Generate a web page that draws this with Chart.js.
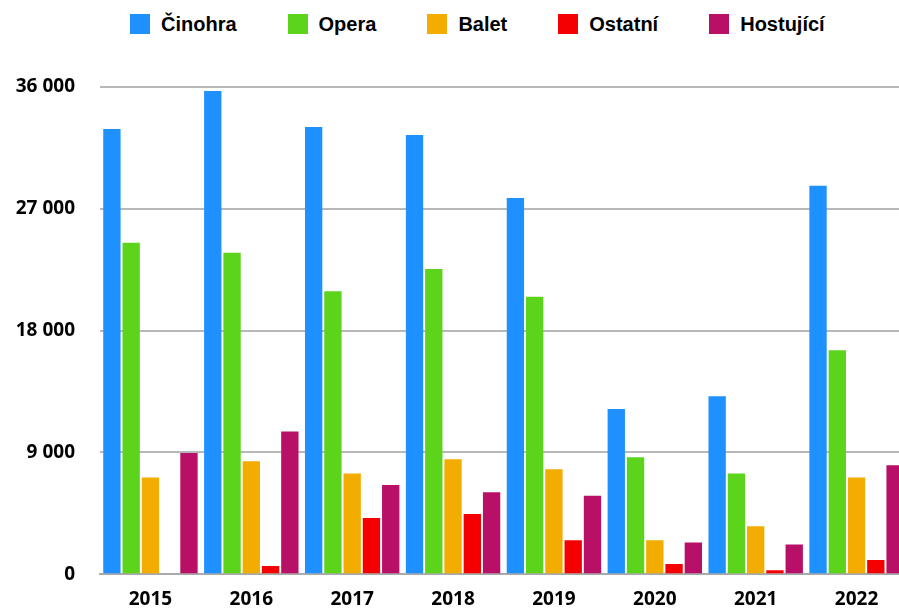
<!DOCTYPE html>
<html lang="cs">
<head>
<meta charset="utf-8">
<script src="https://cdn.jsdelivr.net/npm/chart.js@4/dist/chart.umd.min.js"></script>
<style>
  html, body { margin: 0; padding: 0; background: #fff; }
  body { width: 899px; height: 608px; overflow: hidden; position: relative; }
  #legend {
    position: absolute; top: 14px; left: 130px;
    display: flex; gap: 51px;
    font: bold 20px "Liberation Sans", Arial, sans-serif; color: #000;
  }
  #legend .item { display: flex; align-items: center; height: 20px; line-height: 20px; }
  #legend .box { width: 20px; height: 20px; margin-right: 11px; }
  #chart { position: absolute; top: 0; left: 0; }
</style>
</head>
<body>
<div id="legend"></div>
<canvas id="chart" width="920" height="635"></canvas>
<script>
// Data
const years = ['2015', '2016', '2017', '2018', '2019', '2020', '2021', '2022'];
const seriesNames = ['Činohra', 'Opera', 'Balet', 'Ostatní', 'Hostující'];
const cinohra = [32900, 35700, 33050, 32450, 27800, 12200, 13150, 28700];
const opera = [24500, 23750, 20900, 22550, 20500, 8650, 7450, 16550];
const balet = [7150, 8350, 7450, 8500, 7750, 2500, 3550, 7150];
const ostatni = [0, 600, 4150, 4450, 2500, 750, 300, 1050];
const hostujici = [8950, 10550, 6600, 6050, 5800, 2350, 2200, 8050];
const yTicks = [0, 9000, 18000, 27000, 36000];

const colors = ['#1e90ff', '#5cd41c', '#f3ad00', '#f50000', '#b81066'];
const values = [cinohra, opera, balet, ostatni, hostujici];

// Legend as plain HTML, built from the same names and colours
const legendEl = document.getElementById('legend');
seriesNames.forEach((name, i) => {
  const item = document.createElement('div');
  item.className = 'item';
  item.innerHTML = `<span class="box" style="background:${colors[i]}"></span><span>${name}</span>`;
  legendEl.appendChild(item);
});

const tickFont = { family: '"Open Sans", sans-serif', size: 19, weight: 'bold' };

function drawChart() {
  new Chart(document.getElementById('chart'), {
    type: 'bar',
    data: {
      labels: years,
      datasets: seriesNames.map((name, i) => ({
        label: name,
        data: values[i],
        backgroundColor: colors[i],
        borderWidth: 0,
        categoryPercentage: 0.955,
        barPercentage: 0.9
      }))
    },
    options: {
      responsive: false,
      animation: false,
      devicePixelRatio: 1,
      layout: { padding: { top: 87, left: 15, right: 13, bottom: 10 } },
      plugins: {
        legend: { display: false },
        tooltip: { enabled: false }
      },
      scales: {
        x: {
          grid: { display: false, drawTicks: false },
          border: { display: true, color: '#aaaaaa', width: 2 },
          ticks: { color: '#000', font: tickFont, padding: 14 }
        },
        y: {
          min: 0,
          max: 36000,
          afterBuildTicks: (scale) => { scale.ticks = yTicks.map(v => ({ value: v })); },
          afterFit: (scale) => { scale.width = 85; },
          grid: { color: '#b8b8b8', lineWidth: 2, drawTicks: false },
          border: { display: false },
          ticks: {
            color: '#000',
            font: tickFont,
            padding: 25,
            callback: (v) => String(v).replace(/\B(?=(\d{3})+(?!\d))/g, ' ')
          }
        }
      }
    }
  });
}

// make sure the installed fonts are ready before the canvas measures text
Promise.all([
  document.fonts.load('bold 19px "Open Sans"', '0123456789'),
  document.fonts.load('bold 20px "Liberation Sans"', 'Činohra')
]).then(drawChart, drawChart);
</script>
</body>
</html>
